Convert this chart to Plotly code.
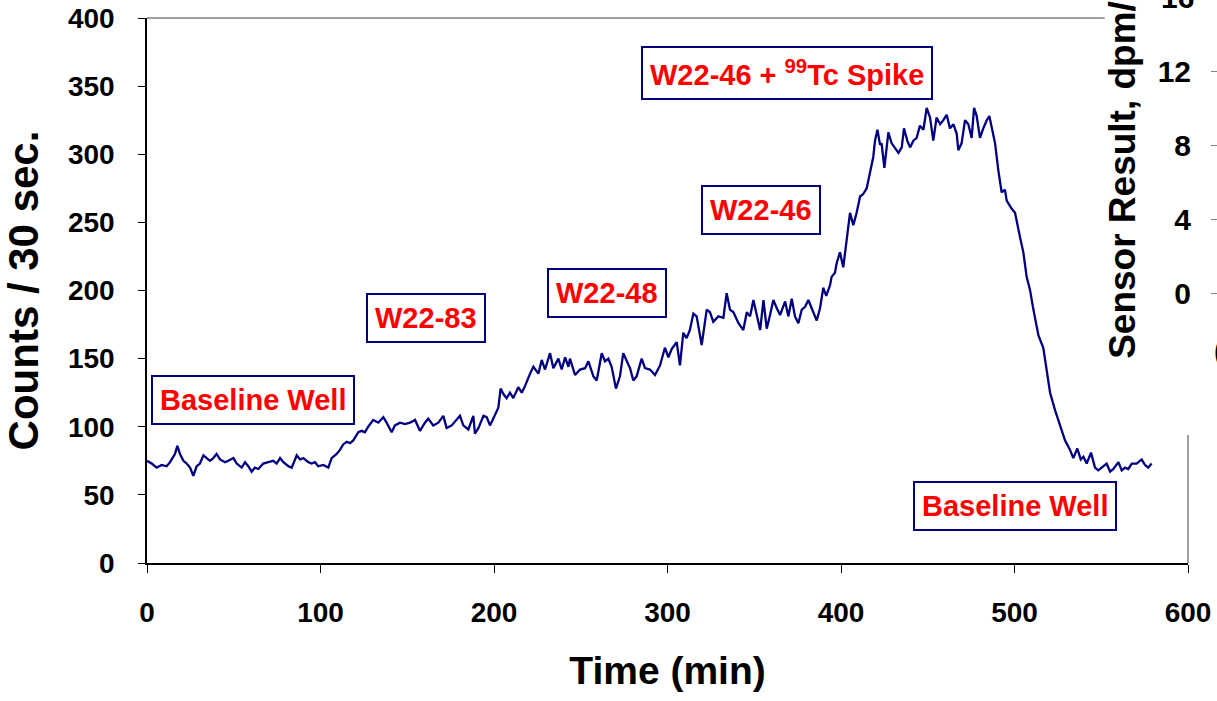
import plotly.graph_objects as go

# ---- data ----
time_min = [
    0, 2.7, 5.6, 8.5, 11.3, 13.3, 16.1, 17.5, 19.0, 21.0, 22.9, 24.8, 26.7, 28.6, 30.5, 32.5,
    34.4, 36.3, 38.2, 40.1, 42.1, 45.0, 46.9, 49.8, 51.7, 54.6, 56.5, 58.4, 60.3, 62.2, 64.2,
    67.0, 69.9, 72.8, 74.7, 76.7, 78.6, 81.5, 83.4, 86.3, 88.2, 90.1, 93.0, 94.9, 96.8, 98.7,
    101.6, 104.5, 106.4, 109.3, 111.2, 113.1, 115.1, 117.0, 118.9, 121.8, 123.7, 125.6, 127.5,
    130.4, 133.3, 136.2, 138.1, 141.0, 142.9, 145.8, 148.7, 151.6, 154.5, 157.3, 160.2, 162.1,
    165.0, 167.9, 170.8, 172.7, 175.6, 178.5, 180.4, 182.3, 185.2, 188.1, 189.0, 191.0, 193.9,
    195.8, 197.7, 199.6, 201.5, 202.5, 203.8, 205.4, 207.3, 209.2, 211.1, 214.0, 216.0, 217.9,
    220.8, 222.7, 225.6, 227.5, 229.4, 232.3, 234.2, 237.1, 239.0, 241.0, 242.9, 243.8, 246.7,
    249.6, 252.5, 254.4, 257.3, 259.2, 262.1, 264.0, 265.9, 267.8, 270.3, 272.6, 274.5, 276.4,
    278.4, 280.3, 282.2, 285.1, 287.0, 289.9, 292.8, 295.7, 298.5, 300.5, 302.4, 305.3, 307.2,
    309.1, 311.0, 312.9, 314.9, 316.8, 319.7, 322.6, 324.5, 326.4, 329.3, 332.2, 334.1, 336.0,
    338.0, 340.9, 343.7, 345.7, 347.6, 349.5, 351.4, 353.4, 355.3, 357.2, 359.1, 361.0, 363.0,
    364.9, 367.8, 369.7, 371.6, 373.5, 375.4, 377.4, 379.3, 381.2, 383.1, 386.0, 387.9, 389.8,
    391.5, 393.7, 394.6, 396.5, 397.5, 399.4, 401.3, 403.3, 405.2, 407.1, 409.0, 411.0, 412.9,
    414.8, 416.7, 418.6, 419.6, 421.0, 422.5, 423.4, 425.0, 427.3, 429.2, 431.1, 433.1, 435.0,
    436.3, 438.2, 439.8, 441.7, 443.6, 445.5, 447.5, 449.4, 451.3, 453.2, 455.1, 457.1, 459.0,
    460.9, 462.8, 464.8, 466.7, 467.6, 469.5, 471.5, 473.4, 475.3, 476.7, 478.2, 480.1, 482.0,
    484.0, 485.5, 486.9, 487.8, 488.8, 490.7, 492.6, 494.5, 495.5, 498.4, 500.3, 503.2, 505.1,
    507.0, 509.0, 510.9, 513.8, 516.6, 518.6, 520.5, 523.4, 526.3, 529.1, 532.0, 533.9, 536.2,
    538.2, 539.7, 541.6, 544.1, 546.4, 548.3, 550.3, 553.1, 555.1, 557.0, 559.9, 561.8, 563.7,
    565.6, 567.6, 570.4, 573.3, 575.2, 577.1, 579.0,
]
counts = [
    75, 73, 70, 72, 71, 74, 80, 86, 80, 75, 73, 70, 64, 71, 73, 79,
    77, 75, 77, 80, 76, 74, 75, 77, 73, 70, 74, 71, 67, 70, 69,
    73, 74, 75, 73, 77, 74, 71, 70, 79, 76, 77, 74, 73, 74, 71,
    72, 70, 77, 80, 83, 87, 89, 88, 90, 96, 97, 96, 100,
    105, 103, 107, 103, 96, 101, 103, 102, 103, 105, 97, 103, 106,
    101, 103, 108, 99, 101, 105, 108, 101, 98, 108, 95, 99, 108,
    107, 101, 106, 112, 114, 128, 124, 121, 125, 121, 129, 125, 130,
    139, 144, 139, 149, 142, 154, 143, 150, 142, 151, 144, 150, 138,
    142, 143, 148, 137, 134, 154, 148, 150, 144, 128, 137, 154, 148,
    143, 134, 137, 150, 143, 142, 138, 145, 158, 151, 157, 162, 145,
    169, 165, 171, 183, 181, 160, 186, 184, 177, 181, 180, 198, 186,
    184, 176, 171, 184, 181, 193, 182, 171, 193, 172, 182, 193, 187,
    182, 192, 181, 194, 181, 176, 186, 188, 193, 187, 178, 187, 202,
    196, 204, 210, 213, 220, 228, 217, 237, 257, 248, 257, 269, 271,
    275, 286, 298, 310, 318, 307, 308, 290, 316, 308, 305, 301, 305,
    319, 310, 305, 310, 312, 321, 318, 334, 327, 310, 327, 322, 325,
    329, 319, 322, 315, 303, 308, 325, 322, 312, 334, 328, 312, 319,
    325, 328, 319, 315, 308, 288, 272, 274, 266, 260, 257, 239, 228,
    210, 200, 186, 167, 158, 139, 125, 112, 100, 90, 83, 77, 84,
    76, 78, 73, 81, 70, 68, 70, 73, 67, 69, 74, 68, 70,
    69, 73, 73, 76, 72, 70, 73,
]

x_ticks = [0, 100, 200, 300, 400, 500, 600]
y_ticks = [0, 50, 100, 150, 200, 250, 300, 350, 400]
sensor_ticks = [0, 4, 8, 12]

label_texts = ["Baseline Well", "W22-83", "W22-48", "W22-46",
               "W22-46 + <sup>99</sup>Tc Spike", "Baseline Well"]
label_x = [61, 161, 265, 354, 369, 500]
label_y = [120, 180, 198, 259, 360, 42]

FONT = "Liberation Sans, Arial, sans-serif"
NAVY = "#000080"

fig = go.Figure()
fig.add_trace(go.Scatter(x=time_min, y=counts, mode="lines",
                         line=dict(color=NAVY, width=2.3), showlegend=False,
                         hoverinfo="skip"))
fig.add_trace(go.Scatter(x=[None], y=[None], yaxis="y2", showlegend=False,
                         hoverinfo="skip"))

for txt, lx, ly in zip(label_texts, label_x, label_y):
    fig.add_annotation(x=lx, y=ly, xref="x", yref="y", text=txt, showarrow=False,
                       font=dict(family=FONT, size=29, color="#FF0000", weight="bold"),
                       bgcolor="white", bordercolor=NAVY, borderwidth=2, borderpad=7)

# partially visible right-hand axis of the neighbouring chart
fig.add_annotation(x=1.0, y=1.0385, xref="paper", yref="paper", text="16", showarrow=False,
                   xanchor="right", yanchor="middle", xshift=-21,
                   font=dict(family=FONT, size=30, color="black", weight="bold"))
fig.add_annotation(x=1.0, y=0.37, xref="paper", yref="paper",
                   text="Sensor Result, dpm/mL", textangle=-90, showarrow=False,
                   xanchor="center", yanchor="bottom", xshift=-94,
                   font=dict(family=FONT, size=37, color="black", weight="bold"))
fig.add_annotation(x=1.0, y=0.39, xref="paper", yref="paper", text="(",
                   showarrow=False, xanchor="left", xshift=-5,
                   font=dict(family=FONT, size=30, color="black", weight="bold"))

# plot frame (top and right borders in grey, partly hidden by the overlay)
fig.add_shape(type="line", xref="x domain", yref="y domain", x0=0, x1=0.92, y0=1, y1=1,
              line=dict(color="#a0a0a0", width=2))
fig.add_shape(type="line", xref="x domain", yref="y domain", x0=1, x1=1, y0=0, y1=0.235,
              line=dict(color="#a0a0a0", width=2))

fig.update_layout(
    width=1217, height=701,
    margin=dict(l=147, r=0, t=18, b=138, autoexpand=False),
    paper_bgcolor="white", plot_bgcolor="white",
    font=dict(family=FONT, color="black"),
    xaxis=dict(domain=[0, 1041 / 1070], range=[0, 600], tickvals=x_ticks, automargin=False,
               ticks="outside", ticklen=8, tickwidth=1, tickcolor="black",
               showline=True, linecolor="black", linewidth=2, showgrid=False, zeroline=False,
               tickfont=dict(family=FONT, size=28, weight="bold"), ticklabelstandoff=15,
               title=dict(text="Time (min)", standoff=30,
                          font=dict(family=FONT, size=39, weight="bold"))),
    yaxis=dict(range=[0, 400], tickvals=y_ticks, ticks="outside", ticklen=7, tickwidth=1,
               automargin=False,
               tickcolor="black", showline=True, linecolor="black", linewidth=1.5,
               showgrid=False, zeroline=False,
               tickfont=dict(family=FONT, size=28, weight="bold"), ticklabelstandoff=18,
               title=dict(text="Counts / 30 sec.", standoff=18,
                          font=dict(family=FONT, size=42, weight="bold"))),
    yaxis2=dict(overlaying="y", anchor="free", position=1.0, side="left", automargin=False,
                range=[-14.595, 14.865], tickvals=sensor_ticks, ticks="outside",
                ticklen=6, tickcolor="#808080", showline=False, showgrid=False,
                zeroline=False, ticklabelstandoff=14,
                tickfont=dict(family=FONT, size=30, weight="bold")),
)

fig.write_html("out.html")
